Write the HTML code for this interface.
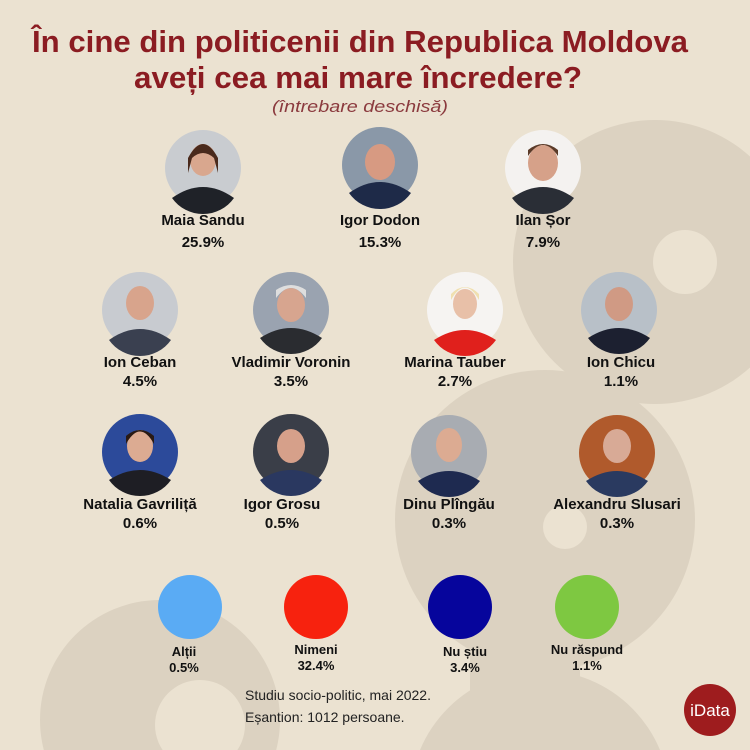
<!DOCTYPE html>
<html><head><meta charset="utf-8"><style>
html,body{margin:0;padding:0;background:#ebe2d1;width:750px;height:750px;overflow:hidden}
svg{display:block}
text{font-family:"Liberation Sans",sans-serif}
</style></head><body>
<svg width="750" height="750" viewBox="0 0 750 750" xmlns="http://www.w3.org/2000/svg">
<rect width="750" height="750" fill="#ebe2d1"/>
<g fill="#dcd2c1">
<circle cx="655" cy="262" r="142"/>
<circle cx="545" cy="520" r="150"/>
<rect x="470" y="600" width="110" height="150"/>
<circle cx="540" cy="800" r="130"/>
<circle cx="160" cy="720" r="120"/>
</g>
<g fill="#ebe2d1">
<circle cx="685" cy="262" r="32"/>
<circle cx="565" cy="527" r="22"/>
<circle cx="200" cy="725" r="45"/>
</g>
<g fill="#8b1c22" font-weight="bold" font-size="31" text-anchor="middle">
<text x="360" y="52" textLength="656" lengthAdjust="spacingAndGlyphs">În cine din politicenii din Republica Moldova</text>
<text x="358" y="88" textLength="448" lengthAdjust="spacingAndGlyphs">aveți cea mai mare încredere?</text>
</g>
<text x="360" y="112" text-anchor="middle" font-size="17" font-style="italic" fill="#8b3a3e" textLength="176" lengthAdjust="spacingAndGlyphs">(întrebare deschisă)</text>

<g>
<g><circle cx="203" cy="168" r="38" fill="#c9ccd0"/><path d="M172 198 q31 -22 62 0 a38 38 0 0 1 -62 0z" fill="#1f2228"/><ellipse cx="203" cy="160" rx="13" ry="16" fill="#d9a78e"/><path d="M188 158 q15 -28 30 0 l0 15 -4 -15 q-11 -10 -22 0 l-4 15z" fill="#4a2a1c"/></g>
<g><circle cx="380" cy="165" r="38" fill="#8a98a8"/><path d="M349 193 q31 -22 62 0 a38 38 0 0 1 -62 0z" fill="#1e2a48"/><ellipse cx="380" cy="162" rx="15" ry="18" fill="#d79a82"/></g>
<g><circle cx="543" cy="168" r="38" fill="#f4f2f0"/><path d="M512 198 q31 -22 62 0 a38 38 0 0 1 -62 0z" fill="#2a2e36"/><ellipse cx="543" cy="163" rx="15" ry="18" fill="#d6a189"/><path d="M528 156 q15 -22 30 0 l0 -6 q-15 -12 -30 0z" fill="#5a3a28"/></g>
<g><circle cx="140" cy="310" r="38" fill="#c8cbd0"/><path d="M109 340 q31 -22 62 0 a38 38 0 0 1 -62 0z" fill="#3a4050"/><ellipse cx="140" cy="303" rx="14" ry="17" fill="#d8a48c"/></g>
<g><circle cx="291" cy="310" r="38" fill="#9aa3b0"/><path d="M260 338 q31 -20 62 0 a38 38 0 0 1 -62 0z" fill="#2a2c30"/><ellipse cx="291" cy="305" rx="14" ry="17" fill="#d7a58f"/><path d="M276 298 q15 -20 30 0 l0 -8 q-15 -10 -30 0z" fill="#dedede"/></g>
<g><circle cx="465" cy="310" r="38" fill="#f6f4f2"/><path d="M434 340 q31 -20 62 0 a38 38 0 0 1 -62 0z" fill="#e0201c"/><ellipse cx="465" cy="304" rx="12" ry="15" fill="#e8c0a8"/><path d="M451 300 q14 -25 28 0 l0 -6 q-14 -14 -28 0z" fill="#f0e0b0"/></g>
<g><circle cx="619" cy="310" r="38" fill="#b8c0c8"/><path d="M588 338 q31 -20 62 0 a38 38 0 0 1 -62 0z" fill="#1c2030"/><ellipse cx="619" cy="304" rx="14" ry="17" fill="#d09a84"/></g>
<g><circle cx="140" cy="452" r="38" fill="#2c4a9a"/><path d="M109 480 q31 -20 62 0 a38 38 0 0 1 -62 0z" fill="#1e1e24"/><ellipse cx="140" cy="446" rx="13" ry="16" fill="#dcab92"/><path d="M126 444 q14 -25 28 0 l0 -8 q-14 -12 -28 0z" fill="#2a1a14"/></g>
<g><circle cx="291" cy="452" r="38" fill="#3a3e48"/><path d="M260 480 q31 -20 62 0 a38 38 0 0 1 -62 0z" fill="#2a3860"/><ellipse cx="291" cy="446" rx="14" ry="17" fill="#d6a08a"/></g>
<g><circle cx="449" cy="453" r="38" fill="#a8acb2"/><path d="M418 481 q31 -20 62 0 a38 38 0 0 1 -62 0z" fill="#1e2a50"/><ellipse cx="449" cy="445" rx="13" ry="17" fill="#dcab92"/></g>
<g><circle cx="617" cy="453" r="38" fill="#b05a2c"/><path d="M586 481 q31 -20 62 0 a38 38 0 0 1 -62 0z" fill="#2a3a60"/><ellipse cx="617" cy="446" rx="14" ry="17" fill="#d8aa96"/></g>
</g>

<g font-weight="bold" font-size="15" fill="#111" text-anchor="middle">
<text x="203" y="225">Maia Sandu</text><text x="203" y="247">25.9%</text>
<text x="380" y="225">Igor Dodon</text><text x="380" y="247">15.3%</text>
<text x="543" y="225">Ilan Șor</text><text x="543" y="247">7.9%</text>
<text x="140" y="367">Ion Ceban</text><text x="140" y="386">4.5%</text>
<text x="291" y="367">Vladimir Voronin</text><text x="291" y="386">3.5%</text>
<text x="455" y="367">Marina Tauber</text><text x="455" y="386">2.7%</text>
<text x="621" y="367">Ion Chicu</text><text x="621" y="386">1.1%</text>
<text x="140" y="509">Natalia Gavriliță</text><text x="140" y="528">0.6%</text>
<text x="282" y="509">Igor Grosu</text><text x="282" y="528">0.5%</text>
<text x="449" y="509">Dinu Plîngău</text><text x="449" y="528">0.3%</text>
<text x="617" y="509">Alexandru Slusari</text><text x="617" y="528">0.3%</text>
</g>

<circle cx="190" cy="607" r="32" fill="#5aabf4"/>
<circle cx="316" cy="607" r="32" fill="#f7220e"/>
<circle cx="460" cy="607" r="32" fill="#06059c"/>
<circle cx="587" cy="607" r="32" fill="#7ec841"/>
<g font-weight="bold" font-size="13" fill="#111" text-anchor="middle">
<text x="184" y="656">Alții</text><text x="184" y="672">0.5%</text>
<text x="316" y="654">Nimeni</text><text x="316" y="670">32.4%</text>
<text x="465" y="656">Nu știu</text><text x="465" y="672">3.4%</text>
<text x="587" y="654">Nu răspund</text><text x="587" y="670">1.1%</text>
</g>
<g font-size="14" fill="#222">
<text x="245" y="700">Studiu socio-politic, mai 2022.</text>
<text x="245" y="722">Eșantion: 1012 persoane.</text>
</g>
<circle cx="710" cy="710" r="26" fill="#9e1c1e"/>
<text x="710" y="716" text-anchor="middle" font-size="17" fill="#fff">iData</text>
</svg>
</body></html>
